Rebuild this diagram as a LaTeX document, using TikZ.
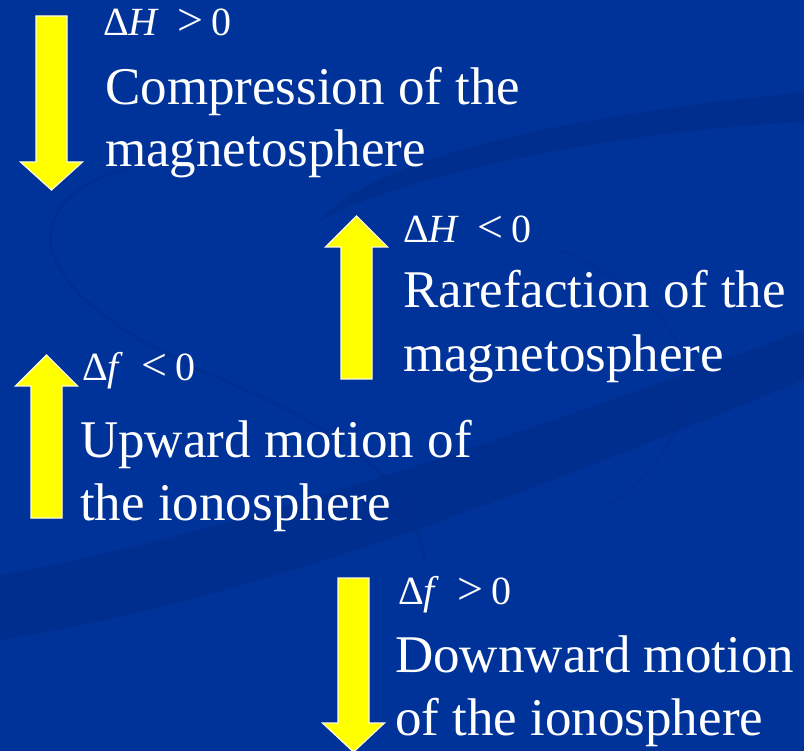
\documentclass[tikz,border=0pt]{standalone}
\usepackage{fontspec}
\setmainfont{Liberation Serif}
\usepackage{tikz}
\usetikzlibrary{positioning, calc}

\definecolor{slideblue}{RGB}{0,51,153}
\definecolor{swooshblue}{RGB}{0,40,130}
\definecolor{arrowyellow}{RGB}{255,255,0}

\begin{document}
\begin{tikzpicture}[x=1pt, y=-1pt,
  blkarrow/.style = {fill=arrowyellow, draw=white!85!yellow, line width=1.2pt},
  swoosh/.style   = {fill=swooshblue, fill opacity=0.4, draw=none},
  lbl/.style      = {anchor=base west, inner sep=0pt, text=white, font=\fontsize{40}{46}\selectfont},
  rel/.style      = {font=\fontsize{46}{46}\selectfont},
  txt/.style      = {anchor=base west, inner sep=0pt, text=white, font=\fontsize{53}{62}\selectfont} ]

% background
\fill[slideblue] (0,0) rectangle (804,751);
\useasboundingbox (0,0) rectangle (804,751);

% faint swooshes
\fill[swoosh] (804,92) .. controls (600,112) and (380,150) .. (318,222)
   .. controls (370,190) and (560,135) .. (804,122) -- cycle;
\fill[swoosh] (0,575) .. controls (250,530) and (560,420) .. (804,330)
   -- (804,380) .. controls (560,480) and (260,600) .. (0,640) -- cycle;
\draw[swooshblue, line width=3pt, opacity=0.3] (130,168) .. controls (10,200) and (20,290) .. (200,370)
   .. controls (330,425) and (410,470) .. (425,560);
\draw[swooshblue, line width=3pt, opacity=0.25] (560,250) .. controls (720,320) and (720,420) .. (610,505);

% block arrows: x / tail / head base / tip
\foreach \x/\ya/\yb/\yc in {51.5/16/162/190, 356.5/379/247/216, 46.5/518/386/355, 353.5/578/723/752}
  \draw[blkarrow] ({\x-15.5},\ya) -- ({\x-15.5},\yb) -- ({\x-31},\yb) -- (\x,\yc)
     -- ({\x+31},\yb) -- ({\x+15.5},\yb) -- ({\x+15.5},\ya) -- cycle;

%--- compression
\node[lbl] (dH_pos) at (103,36) {Δ\textit{H}\hspace{0.45em}{\fontsize{46}{46}\selectfont>}\hspace{0.2em}0};
\node[txt] (comp_a) at (105,105) {Compression of the};
\node[txt] (comp_b) at (105,167) {magnetosphere};

%--- rarefaction
\node[lbl] (dH_neg) at (403,243) {Δ\textit{H}\hspace{0.45em}{\fontsize{46}{46}\selectfont<}\hspace{0.2em}0};
\node[txt] (rare_a) at (403,308) {Rarefaction of the};
\node[txt] (rare_b) at (403,372) {magnetosphere};

%--- upward motion
\node[lbl] (df_neg) at (82,381) {Δ\textit{f}\hspace{0.45em}{\fontsize{46}{46}\selectfont<}\hspace{0.2em}0};
\node[txt] (up_a) at (80,458) {Upward motion of};
\node[txt] (up_b) at (80,520) {the ionosphere};

%--- downward motion
\node[lbl] (df_pos) at (398,604) {Δ\textit{f}\hspace{0.45em}{\fontsize{46}{46}\selectfont>}\hspace{0.2em}0};
\node[txt] (down_a) at (395,672) {Downward motion};
\node[txt] (down_b) at (395,735) {of the ionosphere};

\end{tikzpicture}
\end{document}
